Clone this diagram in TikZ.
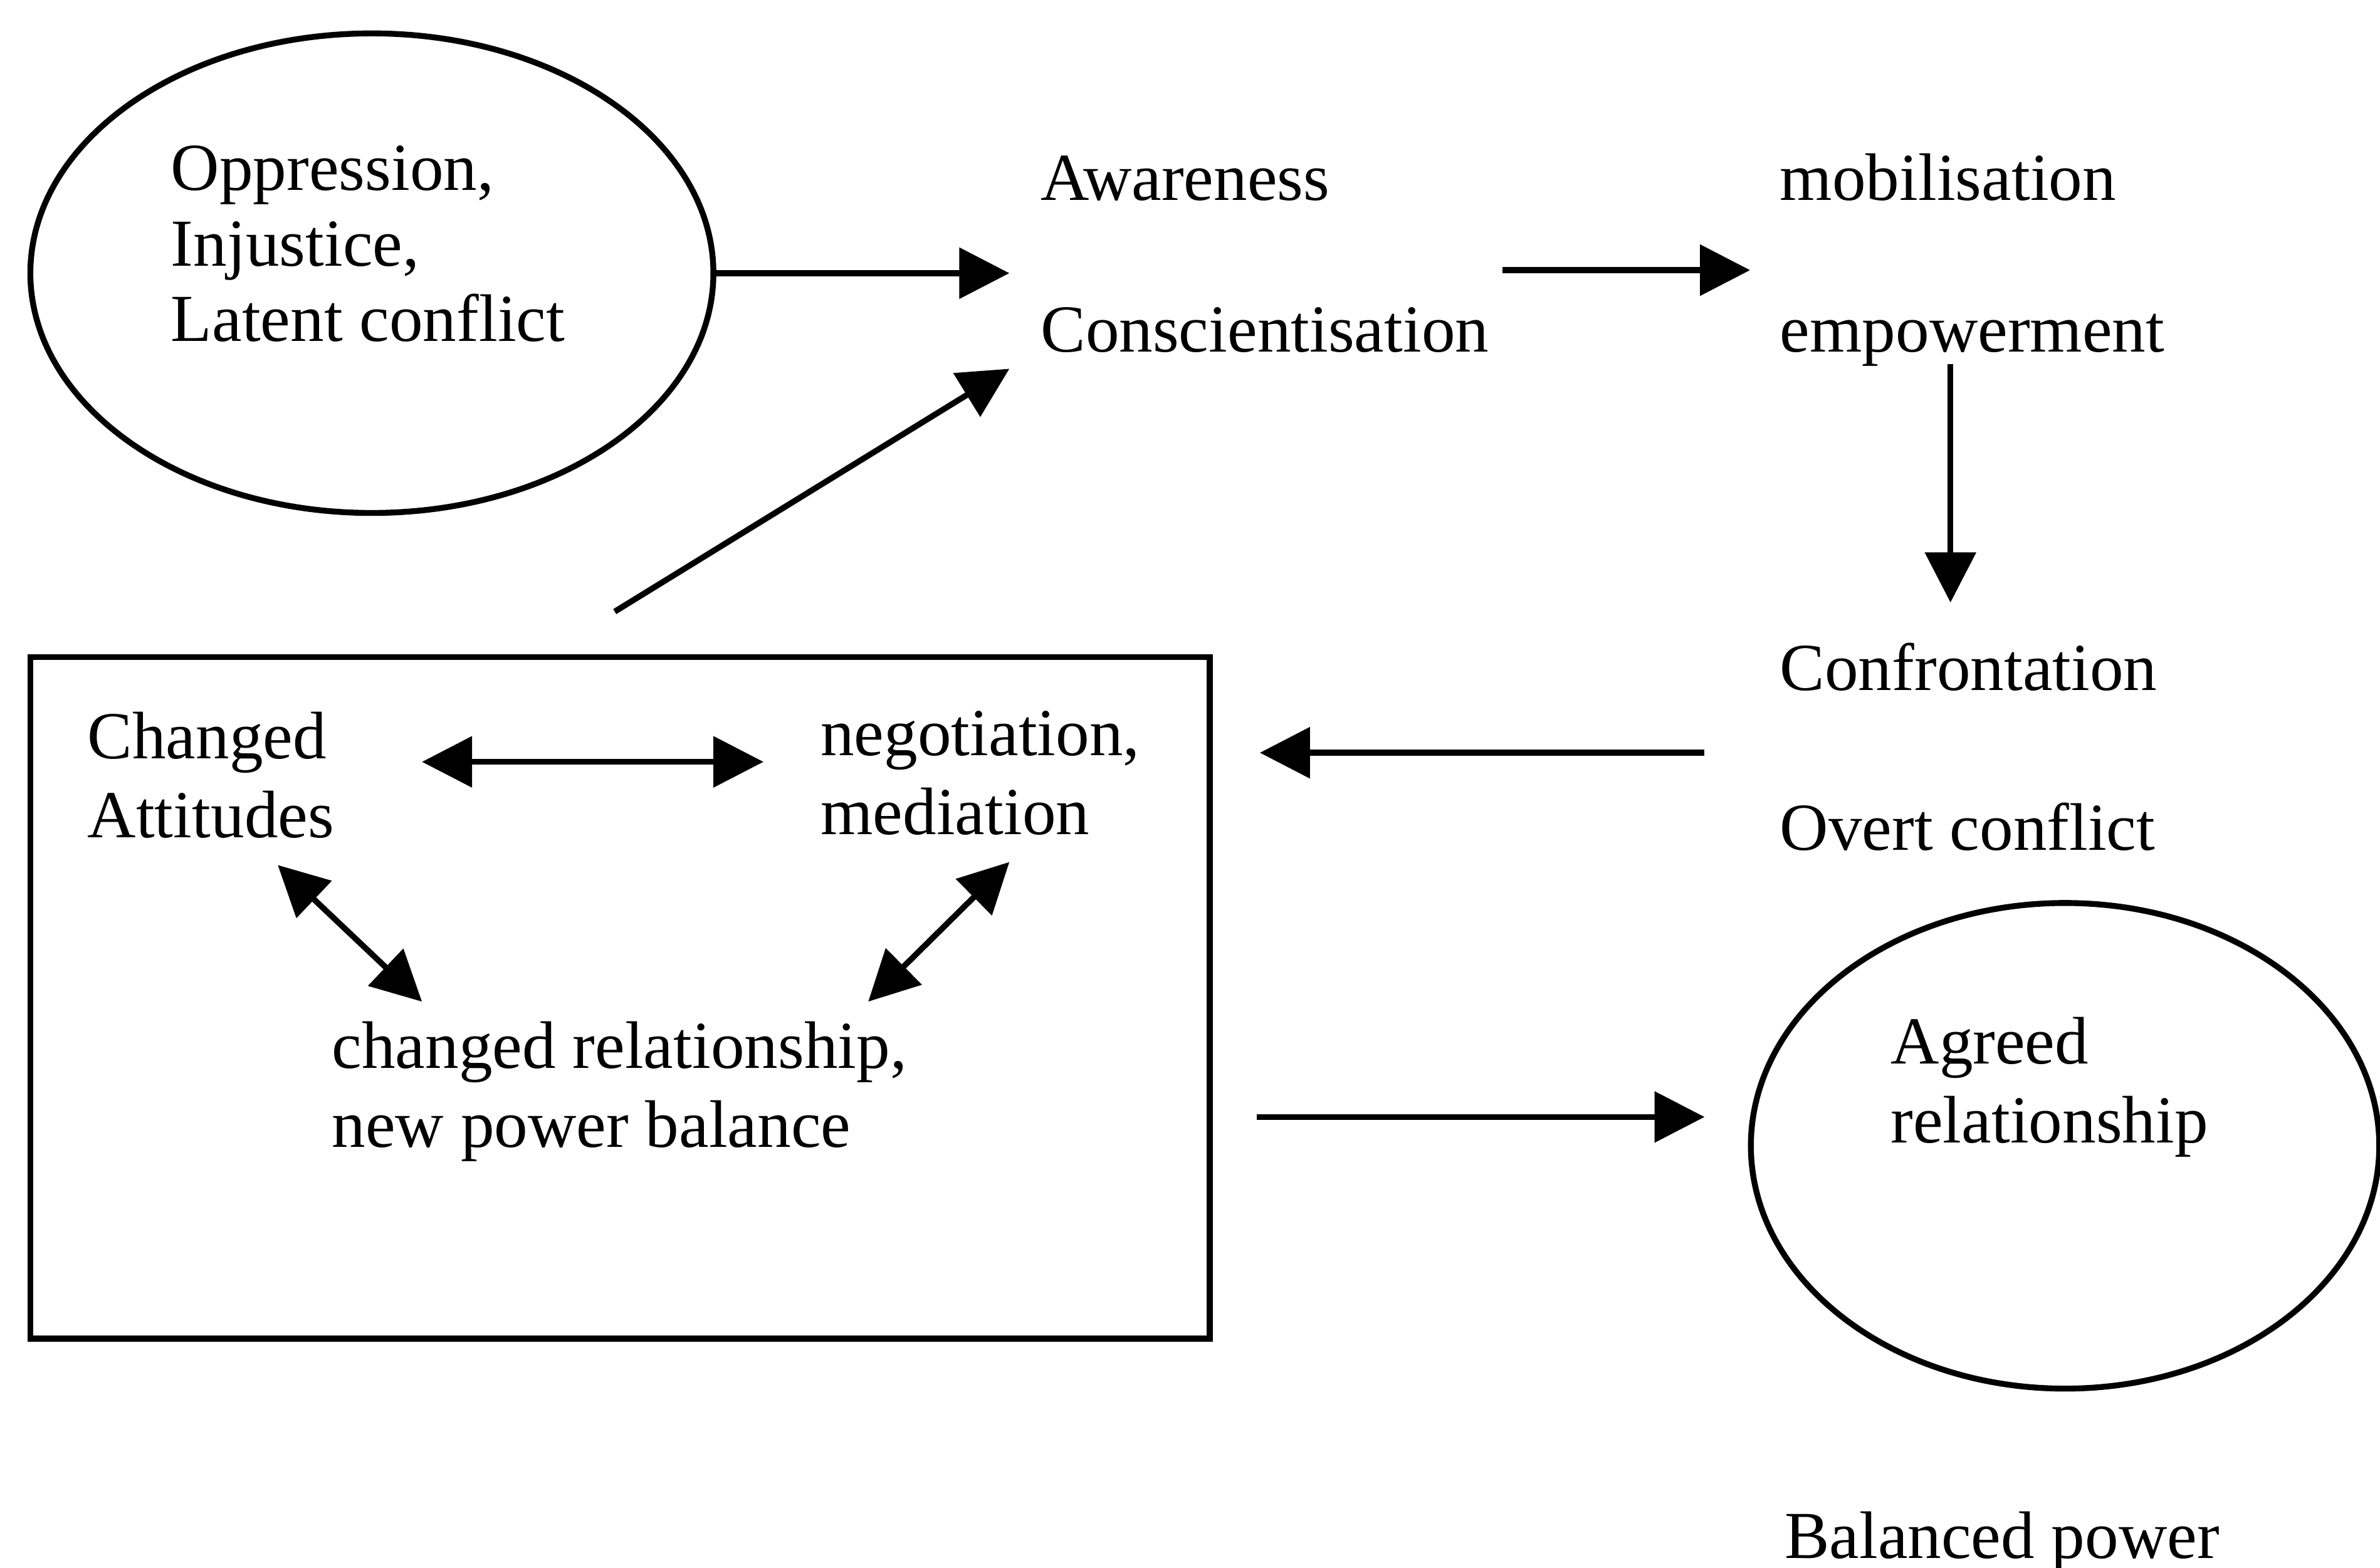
\documentclass[tikz,border=0pt]{standalone}
\usepackage{fontspec}
\setmainfont{Liberation Serif}
\usetikzlibrary{shapes.geometric, arrows.meta, positioning}
\tikzset{
every node/.style={font=\fontsize{12.6}{14.8}\selectfont, inner sep=0pt}, % plain text, no padding
txt/.style={anchor=base west, align=left}, % text placed by its last baseline
ring/.style={draw, ellipse, line width=1.1pt}, % the two ellipses
flow/.style={-{Triangle[length=3.3mm, width=3.3mm]}, line width=1.1pt}, % one-way arrow
twoway/.style={{Triangle[length=3.3mm, width=3.3mm]}-{Triangle[length=3.3mm, width=3.3mm]}, line width=1.1pt}, % two-way arrow
}
\begin{document}
\begin{tikzpicture}
        \useasboundingbox (0,0) rectangle (15.68,-10.33);

        \node[ring, minimum width=4.5cm, minimum height=3.16cm] (oppring) at (2.45,-1.80) {};
        \node[txt, font=\fontsize{12.6}{14.2}\selectfont] (oppr) at (1.12,-2.25) {Oppression,\\Injustice,\\Latent conflict};

        \node[txt] (aware) at (6.85,-1.32) {Awareness};
        \node[txt] (consc) at (6.85,-2.32) {Conscientisation};
        \node[txt] (mobil) at (11.72,-1.32) {mobilisation};
        \node[txt] (empow) at (11.72,-2.32) {empowerment};
        \node[txt] (confr) at (11.72,-4.55) {Confrontation};
        \node[txt] (overt) at (11.72,-5.60) {Overt conflict};

        \node[draw, line width=1.1pt, minimum width=7.77cm, minimum height=4.49cm] (box) at (4.085,-6.575) {};
        \node[txt] (attit) at (0.57,-5.52) {Changed\\Attitudes};
        \node[txt] (negot) at (5.40,-5.50) {negotiation,\\mediation};
        \node[txt] (relat) at (2.18,-7.56) {changed relationship,\\new power balance};

        \node[ring, minimum width=4.14cm, minimum height=3.20cm] (agring) at (13.605,-7.55) {};
        \node[txt] (agreed) at (12.45,-7.53) {Agreed\\relationship};
        \node[txt] (balance) at (11.75,-10.27) {Balanced power};

        % free ends of the arrows
        \coordinate (a1) at (6.65,-1.80);
        \coordinate (a2s) at (9.90,-1.78);
        \coordinate (a2e) at (11.53,-1.78);
        \coordinate (a3s) at (12.85,-2.40);
        \coordinate (a3e) at (12.85,-3.97);
        \coordinate (a4s) at (11.23,-4.96);
        \coordinate (a4e) at (8.30,-4.96);
        \coordinate (a5s) at (4.05,-4.03);
        \coordinate (a5e) at (6.65,-2.43);
        \coordinate (a6s) at (8.28,-7.36);
        \coordinate (a6e) at (11.23,-7.36);
        \coordinate (d1s) at (2.78,-5.02);
        \coordinate (d1e) at (5.03,-5.02);
        \coordinate (d2s) at (1.83,-5.70);
        \coordinate (d2e) at (2.78,-6.60);
        \coordinate (d3s) at (6.65,-5.68);
        \coordinate (d3e) at (5.72,-6.60);

        \draw[flow] (oppring.east) -- (a1);
        \draw[flow] (a2s) -- (a2e);
        \draw[flow] (a3s) -- (a3e);
        \draw[flow] (a4s) -- (a4e);
        \draw[flow] (a5s) -- (a5e);
        \draw[flow] (a6s) -- (a6e);
        \draw[twoway] (d1s) -- (d1e);
        \draw[twoway] (d2s) -- (d2e);
        \draw[twoway] (d3s) -- (d3e);
\end{tikzpicture}
\end{document}
